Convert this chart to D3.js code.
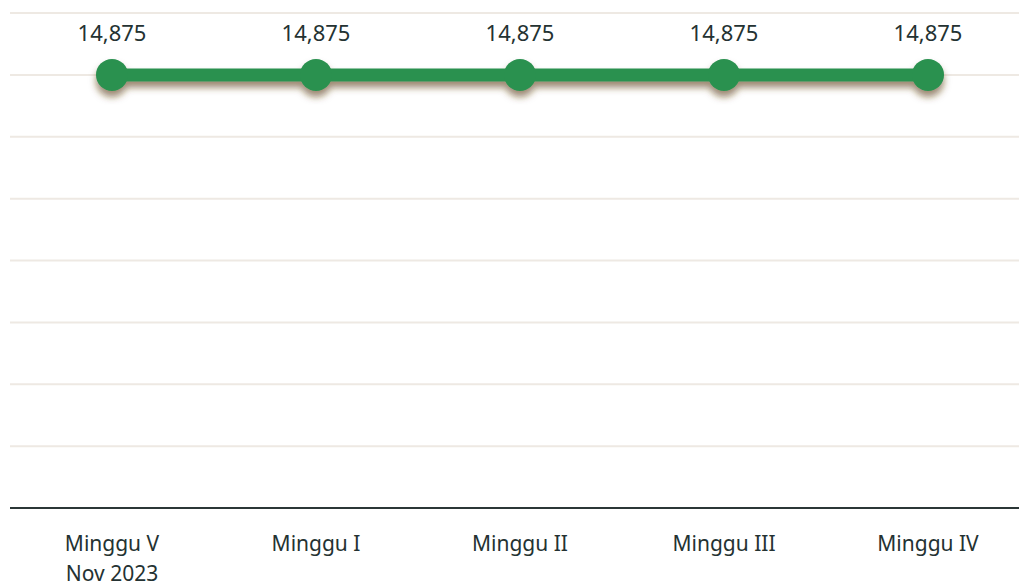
<!DOCTYPE html>
<html><head><meta charset="utf-8">
<script src="https://cdn.jsdelivr.net/npm/d3@7"></script>
<style>body{margin:0;background:#fff;}svg{display:block;}</style>
</head><body>
<svg id="c" width="1019" height="588"></svg>
<script>
const categories = [["Minggu V","Nov 2023"],["Minggu I"],["Minggu II"],["Minggu III"],["Minggu IV"]];
const values = [14875, 14875, 14875, 14875, 14875];
const yTicks = [14868, 14869, 14870, 14871, 14872, 14873, 14874, 14875, 14876];

const svg = d3.select("#c");
const W = 1019, H = 588;
const x = d3.scalePoint().domain(d3.range(categories.length)).range([10, 1030]).padding(0.5);
const y = d3.scaleLinear().domain([14868, 14876]).range([508, 13]);

const defs = svg.append("defs");
const f = defs.append("filter").attr("id","sh").attr("x","-20%").attr("y","-50%").attr("width","140%").attr("height","250%");
f.append("feDropShadow").attr("dx",0).attr("dy",6).attr("stdDeviation",3.5).attr("flood-color","#5c3d14").attr("flood-opacity",0.6);

// grid
svg.append("g").selectAll("line").data(yTicks.slice(1)).join("line")
  .attr("x1",10).attr("x2",W).attr("y1",d=>y(d)).attr("y2",d=>y(d))
  .attr("stroke","#eee9e3").attr("stroke-width",2);

// x axis
svg.append("line").attr("x1",10).attr("x2",W).attr("y1",y(yTicks[0])).attr("y2",y(yTicks[0]))
  .attr("stroke","#2b3636").attr("stroke-width",2);

const font = "'Noto Sans', Lato, sans-serif";
const lbl = svg.append("g");
categories.forEach((c,i)=>{
  const t = lbl.append("text").attr("x",x(i)).attr("y",551).attr("text-anchor","middle")
    .attr("font-family",font).attr("font-size",21).attr("fill","#243232");
  c.forEach((s,j)=>t.append("tspan").attr("x",x(i)).attr("dy",j?30:0).text(s));
});

const g = svg.append("g").attr("filter","url(#sh)");
g.append("path").datum(values)
  .attr("d", d3.line().x((d,i)=>x(i)).y(d=>y(d)))
  .attr("fill","none").attr("stroke","#2a9150").attr("stroke-width",13);
g.selectAll("circle").data(values).join("circle")
  .attr("cx",(d,i)=>x(i)).attr("cy",d=>y(d)).attr("r",16).attr("fill","#2a9150");

svg.append("g").selectAll("text").data(values).join("text")
  .attr("x",(d,i)=>x(i)).attr("y",d=>y(d)-34).attr("text-anchor","middle")
  .attr("font-family",font).attr("font-size",22).attr("fill","#243232")
  .text(d=>d3.format(",")(d));
</script>
</body></html>
